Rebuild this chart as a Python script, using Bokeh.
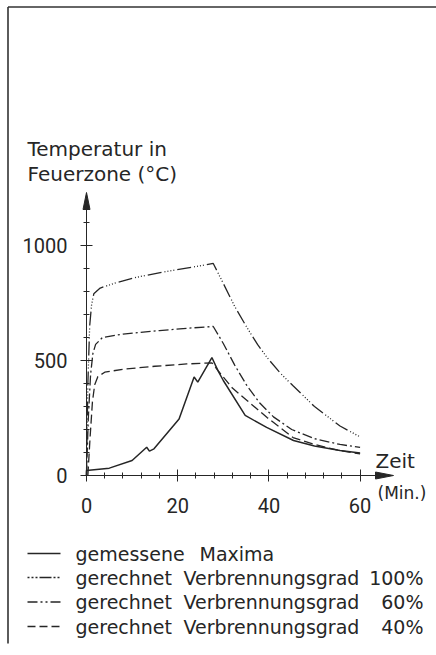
from bokeh.plotting import figure
from bokeh.models import Range1d, LinearAxis, FixedTicker
from bokeh.core.properties import value
from bokeh.embed import file_html
from bokeh.resources import INLINE

# ---------------- data ----------------
meas_t = [0, 0, 5, 10, 13.2, 13.8, 14.8, 20.3, 23.6, 24.4, 27.5, 28.8, 30, 34.8, 39.5, 45.4, 50, 55.6, 60]
meas_T = [0, 22, 32, 65, 123, 106, 116, 246, 428, 406, 513, 457, 413, 261, 209, 152, 128, 109, 98]

g100_t = [0, 0.3, 0.7, 1.1, 1.6, 3, 6, 11, 17, 23, 27.8, 30, 32.5, 35.2, 37.5, 39.6, 42.5, 45.3, 50, 55.6, 60]
g100_T = [0, 400, 650, 740, 790, 815, 835, 862, 885, 905, 922, 835, 735, 643, 570, 513, 445, 390, 300, 215, 168]

g60_t = [0, 0.4, 0.9, 1.4, 2.0, 3.5, 8, 16, 22, 27.8, 30, 32.5, 35.2, 38, 41, 45, 50, 55.6, 60]
g60_T = [0, 250, 440, 530, 570, 600, 615, 630, 640, 648, 574, 480, 390, 315, 255, 200, 160, 135, 122]

g40_t = [0.3, 0.8, 1.3, 1.8, 2.5, 4, 8, 15, 22, 27.5, 29.5, 32, 35.2, 39.6, 45.3, 50, 55.6, 60]
g40_T = [0, 170, 320, 395, 430, 449, 462, 475, 485, 490, 440, 380, 326, 252, 165, 135, 108, 94]

x_major = [0, 20, 40, 60]
x_minor = [4, 8, 12, 16, 24, 28, 32, 36, 44, 48, 52, 56]
y_major = [0, 500, 1000]
y_minor = [100, 200, 300, 400, 600, 700, 800, 900, 1100]

title_lines = ["Temperatur in", "Feuerzone (°C)"]
x_name = ["Zeit", "(Min.)"]
legend_first = ["gemessene", "gerechnet", "gerechnet", "gerechnet"]
legend_mid = ["Maxima", "Verbrennungsgrad", "Verbrennungsgrad", "Verbrennungsgrad"]
legend_pct = ["", "100%", "60%", "40%"]

# ---------------- layout helpers (page pixel -> data) ----------------
SX = 4.56   # px per minute
SY = 0.23   # px per degree
X0, Y0 = 86, 475  # page pixel position of origin


def fx(px):
    return (px - X0) / SX


def fy(py):
    return (Y0 - py) / SY


W, H = 436, 655
ink = "#262626"
TFONT = value("DejaVu Sans")

p = figure(width=W, height=H, x_range=Range1d(fx(0), fx(W)), y_range=Range1d(fy(H), fy(0)),
           output_backend="svg", toolbar_location=None, min_border=0,
           x_axis_location=None, y_axis_location=None)
p.grid.visible = False
p.outline_line_color = None
p.background_fill_color = "white"
p.border_fill_color = "white"

# frame lines (left and top)
p.line([fx(7.5), fx(7.5)], [fy(643), fy(6.5)], line_color="#333333", line_width=1.6)
p.line([fx(7.5), fx(436)], [fy(6.5), fy(6.5)], line_color="#333333", line_width=1.6)

# axes
xa = LinearAxis(fixed_location=0, ticker=FixedTicker(ticks=x_major, minor_ticks=x_minor), bounds=(0, 64))
ya = LinearAxis(fixed_location=0, ticker=FixedTicker(ticks=y_major, minor_ticks=y_minor), bounds=(0, 1165))
for ax in (xa, ya):
    ax.axis_line_color = ink
    ax.axis_line_width = 1
    ax.major_tick_line_color = ink
    ax.minor_tick_line_color = ink
    ax.major_tick_in = 6
    ax.major_tick_out = 6
    ax.minor_tick_in = 3
    ax.minor_tick_out = 3
    ax.major_label_text_font = "Roboto"
    ax.major_label_text_font_size = "20px"
    ax.major_label_text_color = ink
xa.major_label_standoff = 16
ya.major_label_standoff = 13
p.add_layout(xa, "below")
p.add_layout(ya, "left")

# arrow heads
p.patch([fx(375), fx(393), fx(375)], [fy(471.5), fy(475), fy(478.5)], color=ink)
p.patch([fx(82.5), fx(86), fx(89.5)], [fy(209), fy(192), fy(209)], color=ink)

# curves
p.line(meas_t, meas_T, line_color=ink, line_width=1.5)
p.line(g100_t, g100_T, line_color=ink, line_width=1.3, line_dash="14 3 1 2 1 2 1 2 1 3")
p.line(g60_t, g60_T, line_color=ink, line_width=1.3, line_dash="10 3 2 3")
p.line(g40_t, g40_T, line_color=ink, line_width=1.3, line_dash="9 4")


def txt(px, py, s, size, align="left"):
    p.text([fx(px)], [fy(py)], text=[s], text_font=TFONT, text_font_size=size,
           text_color=ink, text_baseline="middle", text_align=align)


# titles
txt(27, 148, title_lines[0], "20px")
txt(27, 173, title_lines[1], "20px")
txt(375, 460, x_name[0], "20px")
txt(377, 492, x_name[1], "17px")

# legend
rows_mid = [553, 577, 601.5, 626]
dashes = ["solid", "2 2 2 2 2 2 12", "10 3 2 3 2 3", "8 4"]
for i, rm in enumerate(rows_mid):
    p.line([fx(27), fx(60)], [fy(rm), fy(rm)], line_color=ink, line_width=1.3, line_dash=dashes[i])
    txt(75, rm, legend_first[i], "19px")
    txt(199 if i == 0 else 183, rm, legend_mid[i], "19px")
    if legend_pct[i]:
        txt(423, rm, legend_pct[i], "19px", align="right")

open("out.html", "w").write(file_html(p, INLINE))
